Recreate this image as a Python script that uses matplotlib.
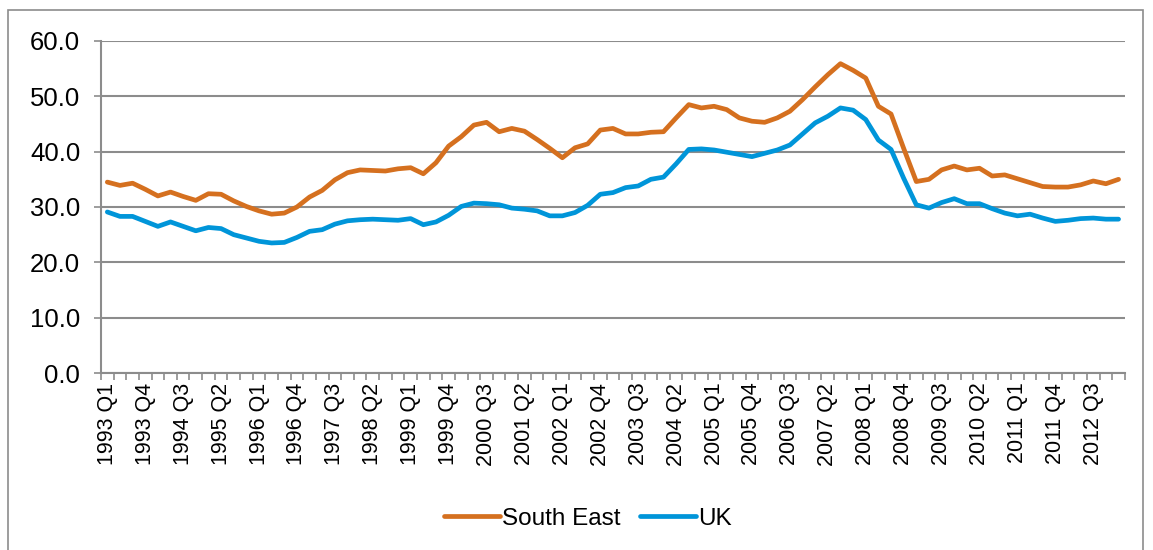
import matplotlib
matplotlib.use("Agg")
import matplotlib.pyplot as plt
from matplotlib.patches import Rectangle
from matplotlib.ticker import FixedLocator

# quarterly series, 1993 Q1 .. 2013 Q1
quarters = ["%d Q%d" % (1993 + i // 4, i % 4 + 1) for i in range(81)]

south_east = [34.5, 33.9, 34.3, 33.2, 32.0, 32.7, 31.9, 31.2, 32.4, 32.3,
              31.1, 30.1, 29.3, 28.7, 28.9, 30.0, 31.8, 33.0, 34.9, 36.2,
              36.7, 36.6, 36.5, 36.9, 37.1, 36.0, 38.0, 41.0, 42.7, 44.8,
              45.3, 43.6, 44.2, 43.7, 42.2, 40.6, 38.9, 40.7, 41.4, 43.9,
              44.2, 43.2, 43.2, 43.5, 43.6, 46.1, 48.5, 47.9, 48.2, 47.6,
              46.1, 45.5, 45.3, 46.1, 47.3, 49.4, 51.7, 53.9, 55.9, 54.7,
              53.3, 48.2, 46.8, 40.6, 34.6, 35.0, 36.7, 37.4, 36.7, 37.0,
              35.6, 35.8, 35.1, 34.4, 33.7, 33.6, 33.6, 34.0, 34.7, 34.2,
              35.0]

uk = [29.1, 28.3, 28.3, 27.4, 26.5, 27.3, 26.5, 25.7, 26.3, 26.1,
      25.0, 24.4, 23.8, 23.5, 23.6, 24.5, 25.6, 25.9, 26.9, 27.5,
      27.7, 27.8, 27.7, 27.6, 27.9, 26.8, 27.3, 28.5, 30.1, 30.7,
      30.6, 30.4, 29.8, 29.6, 29.3, 28.4, 28.4, 29.0, 30.3, 32.3,
      32.6, 33.5, 33.8, 35.0, 35.4, 37.8, 40.4, 40.5, 40.3, 39.9,
      39.5, 39.1, 39.7, 40.3, 41.2, 43.2, 45.2, 46.4, 47.9, 47.5,
      45.8, 42.1, 40.4, 35.2, 30.4, 29.8, 30.8, 31.5, 30.6, 30.6,
      29.7, 28.9, 28.4, 28.7, 28.0, 27.4, 27.6, 27.9, 28.0, 27.8,
      27.8]

series = [("South East", south_east, "#D5701F"), ("UK", uk, "#0095D9")]

plt.rcParams["font.family"] = ["Liberation Sans", "DejaVu Sans"]
grey = "#8C8C8C"

fig = plt.figure(figsize=(11.53, 5.5), dpi=100)
ax = fig.add_axes([0.0876, 0.3218, 0.888, 0.6037])

x = list(range(len(quarters)))
for name, vals, col in series:
    ax.plot(x, vals, color=col, lw=3.4, label=name, solid_joinstyle="round",
            solid_capstyle="round")

ax.set_xlim(-0.5, len(quarters) - 0.5)
ax.set_ylim(0, 60)
ax.set_yticks(range(0, 61, 10))
ax.set_yticklabels(["%.1f" % v for v in range(0, 61, 10)], fontsize=18.5)
ax.yaxis.grid(True, color=grey, lw=1.5)
ax.set_axisbelow(True)

ax.set_xticks(x[::3])
ax.set_xticklabels(quarters[::3], rotation=90, fontsize=15.5)
ax.xaxis.set_minor_locator(FixedLocator([i - 0.5 for i in range(len(quarters) + 1)]))
ax.tick_params(axis="x", which="major", length=0, pad=7)
ax.tick_params(axis="x", which="minor", length=5, width=1.2, color=grey)
ax.tick_params(axis="y", length=5, width=1.2, color=grey, pad=10)

for s in ["top", "right"]:
    ax.spines[s].set_visible(False)
for s in ["left", "bottom"]:
    ax.spines[s].set_color(grey)
    ax.spines[s].set_linewidth(1.5)

ax.legend(loc="center", bbox_to_anchor=(0.51, 0.0564), bbox_transform=fig.transFigure,
          ncol=2, frameon=False, fontsize=17.5, handlelength=2.3, handletextpad=0.1,
          columnspacing=0.8)

fig.patches.append(Rectangle((8 / 1153, -0.05), 1135 / 1153, 1.05 - 10 / 550,
                             transform=fig.transFigure, fill=False,
                             edgecolor=grey, lw=1.2))

fig.savefig("out.png", dpi=100)
